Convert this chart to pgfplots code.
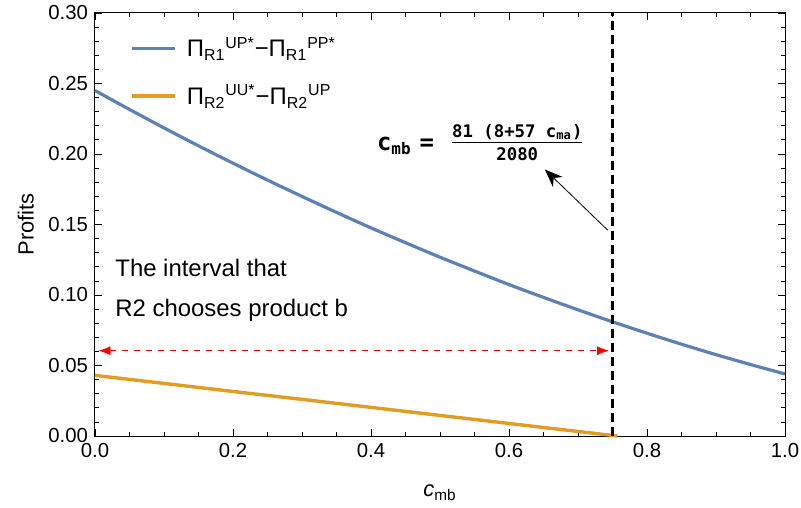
\documentclass[border=0pt]{standalone}
\usepackage{fontspec}
\setmainfont{Liberation Sans}
\setmonofont{DejaVu Sans Mono}
\usepackage{pgfplots}
\pgfplotsset{compat=1.18}
\usetikzlibrary{calc,arrows.meta}
\definecolor{mblue}{RGB}{94,129,181}
\definecolor{morange}{RGB}{225,156,36}
\begin{document}
\begin{tikzpicture}
\begin{axis}[
  scale only axis, width=345bp, height=211.5bp,
  xmin=0, xmax=1, ymin=0, ymax=0.30,
  xtick={0,0.2,...,1.0}, ytick={0,0.05,...,0.30},
  minor x tick num=3, minor y tick num=4,
  tick align=inside, major tick length=3.5bp, minor tick length=2bp,
  axis line style={line width=0.5bp}, tick style={line width=0.4bp, black},
  every tick label/.append style={font=\fontsize{10.2}{12}\selectfont},
  /pgf/number format/assume math mode=true,
  xticklabel style={/pgf/number format/.cd, fixed, fixed zerofill, precision=1},
  yticklabel style={/pgf/number format/.cd, fixed, fixed zerofill, precision=2},
  scaled y ticks=false,
  xlabel={\textit{c}\textsubscript{mb}}, ylabel={Profits},
  label style={font=\fontsize{11}{13}\selectfont},
  xlabel style={at={(0.5,0)}, anchor=north, yshift=-21bp},
  ylabel style={at={(0,0.5)}, anchor=south, yshift=27bp},
  legend style={at={(axis cs:0.0507,0.2845)}, anchor=north west, draw=none, fill=none,
    font=\fontsize{12}{14}\selectfont, row sep=10.5bp, inner sep=0pt,
    nodes={inner xsep=5bp, inner ysep=1bp}},
  legend cell align=left,
  legend image code/.code={\draw[#1] (0bp,0bp) -- (21.5bp,0bp);},
  clip=false,
]
\addplot[mblue, line width=1.6bp, smooth] coordinates {
(0,0.2450)(0.05,0.2316)(0.1,0.2185)(0.15,0.2058)(0.2,0.1935)(0.25,0.1815)
(0.3,0.1699)(0.35,0.1586)(0.4,0.1476)(0.45,0.1371)(0.5,0.1268)(0.55,0.1170)
(0.6,0.1074)(0.65,0.0983)(0.7,0.0895)(0.75,0.0810)(0.8,0.0729)(0.85,0.0651)
(0.9,0.0577)(0.95,0.0507)(1.0,0.0440)};
\addlegendentry{Π\textsubscript{R1}\textsuperscript{UP*}−Π\textsubscript{R1}\textsuperscript{PP*}}
\addplot[morange, line width=1.7bp] coordinates {
(0,0.0430)(0.1,0.0373)(0.2,0.0316)(0.3,0.0260)(0.4,0.0203)(0.5,0.0146)
(0.6,0.0089)(0.7,0.0032)(0.757,0.0)};
\addlegendentry{Π\textsubscript{R2}\textsuperscript{UU*}−Π\textsubscript{R2}\textsuperscript{UP}}
\addplot[black, line width=1.3bp, dash pattern=on 4.5bp off 2.5bp, forget plot] coordinates {(0.75,0)(0.75,0.30)};
\draw[red!85!black, line width=0.4bp, dash pattern=on 3bp off 3bp, {Latex[length=6bp,width=4.5bp,color=red]}-{Latex[length=6bp,width=4.5bp,color=red]}]
  (axis cs:0.005,0.0605) -- (axis cs:0.745,0.0605);
\draw[black, line width=0.4bp, -{Stealth[length=9bp,width=7bp]}] (axis cs:0.743,0.146) -- (axis cs:0.652,0.189);
\node[anchor=base west, inner sep=0pt, font=\fontsize{12}{14}\selectfont] at (axis cs:0.029,0.1128) {The interval that};
\node[anchor=base west, inner sep=0pt, font=\fontsize{12}{14}\selectfont] at (axis cs:0.029,0.0844) {R2 chooses product b};
\node[anchor=center, inner sep=0pt, font=\ttfamily\bfseries\fontsize{12}{14}\selectfont] at (axis cs:0.450,0.206) {c\textsubscript{mb}\,\,=};
\node[anchor=center, font=\ttfamily\bfseries\fontsize{8.7}{12}\selectfont, inner sep=0pt] at (axis cs:0.612,0.207)
  {\begin{tabular}{@{}c@{}}\underline{81 (8+57 c\textsubscript{ma})}\\[-0.5bp] 2080\end{tabular}};
\end{axis}
\pgfresetboundingbox
\path ($(current axis.south west)+(-47.5bp,-36bp)$) rectangle ++(400.5bp,254bp);
\end{tikzpicture}
\end{document}
